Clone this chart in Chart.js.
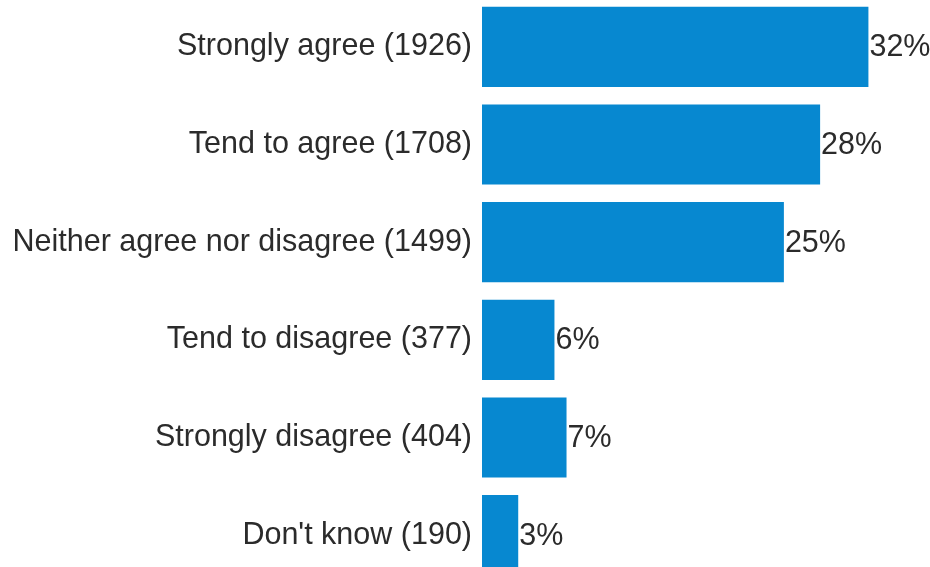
<!DOCTYPE html>
<html>
<head>
<meta charset="utf-8">
<script src="https://cdn.jsdelivr.net/npm/chart.js@4"></script>
<style>
  html, body { margin: 0; padding: 0; background: #fff; overflow: hidden; }
  #responses-chart { position: absolute; left: 0; top: -2px; }
</style>
</head>
<body>
<canvas id="responses-chart" width="930" height="586"></canvas>
<script>
// answers and what each one got
var categories = ['Strongly agree', 'Tend to agree', 'Neither agree nor disagree', 'Tend to disagree', 'Strongly disagree', "Don't know"];
var counts = [1926, 1708, 1499, 377, 404, 190];
var percents = [32, 28, 25, 6, 7, 3];
var percentLabels = ['32%', '28%', '25%', '6%', '7%', '3%'];

var labels = categories.map(function(c, i) { return c + ' (' + counts[i] + ')'; });

var fontFamily = '"Liberation Sans", Arial, sans-serif';

// percent text at the end of each bar
var endLabels = {
    id: 'endLabels',
    afterDatasetsDraw: function(chart) {
        var ctx = chart.ctx;
        var meta = chart.getDatasetMeta(0);
        ctx.save();
        ctx.font = '30.5px ' + fontFamily;
        ctx.fillStyle = '#2b2b2b';
        ctx.textAlign = 'left';
        ctx.textBaseline = 'middle';
        meta.data.forEach(function(bar, i) {
            ctx.fillText(percentLabels[i], bar.x + 1, bar.y + 1);
        });
        ctx.restore();
    }
};

var ctx = document.getElementById('responses-chart').getContext('2d');
var myChart = new Chart(ctx, {
    type: 'bar',
    data: {
        labels: labels,
        datasets: [{
            data: percents,
            backgroundColor: '#0788d0',
            borderWidth: 0,
            barPercentage: 0.82,
            categoryPercentage: 1
        }]
    },
    options: {
        indexAxis: 'y',
        responsive: false,
        devicePixelRatio: 1,
        animation: false,
        layout: { padding: 0 },
        plugins: {
            legend: { display: false },
            tooltip: { enabled: false }
        },
        scales: {
            x: {
                display: false,
                min: 0,
                max: 37.1
            },
            y: {
                grid: { display: false, drawTicks: false },
                border: { display: false },
                ticks: {
                    padding: 10,
                    color: '#2b2b2b',
                    font: { family: fontFamily, size: 30.5 }
                },
                afterFit: function(scale) {
                    scale.width = 482;
                    scale.paddingTop = 0;
                    scale.paddingBottom = 0;
                }
            }
        }
    },
    plugins: [endLabels]
});
</script>
</body>
</html>
